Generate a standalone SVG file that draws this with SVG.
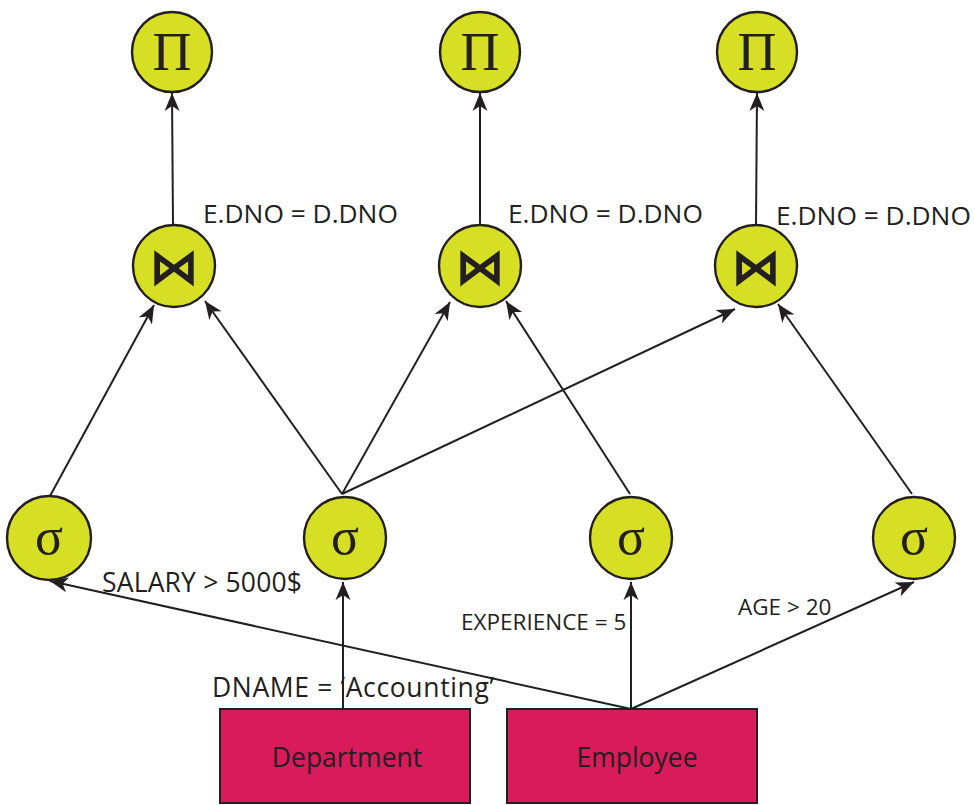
<svg xmlns="http://www.w3.org/2000/svg" width="975" height="805" viewBox="0 0 975 805">
  <style>
    .op { fill: #d6df23; stroke: #231f20; stroke-width: 2.4; }
    .rel { fill: #d91b5b; stroke: #231f20; stroke-width: 2; }
    .edge { stroke: #231f20; stroke-width: 2; fill: none; marker-end: url(#arrow); }
    .sym { font-family: "Liberation Serif", "DejaVu Serif", serif; fill: #231f20; text-anchor: middle; }
    .bow { font-family: "DejaVu Sans", sans-serif; font-weight: bold; fill: #231f20; text-anchor: middle; }
    .lbl { font-family: "Open Sans", "Liberation Sans", sans-serif; fill: #231f20; }
    .name { font-family: "Open Sans", "Liberation Sans", sans-serif; fill: #231f20; font-size: 26.5px; text-anchor: middle; }
  </style>
  <defs>
    <marker id="arrow" markerUnits="userSpaceOnUse" markerWidth="22" markerHeight="18" viewBox="-19 -9 20 18" refX="0" refY="0" orient="auto">
      <path d="M0,0 L-18,-7.5 L-13,0 L-18,7.5 Z" fill="#231f20"/>
    </marker>
  </defs>
  <rect width="975" height="805" fill="#ffffff"/>

  <!-- connectors -->
  <g id="connectors">
    <!-- join to projection -->
    <line class="edge" x1="173" y1="225" x2="172" y2="93"/>
    <line class="edge" x1="480" y1="225" x2="480" y2="93"/>
    <line class="edge" x1="756" y1="225" x2="757" y2="93"/>
    <!-- selections to joins -->
    <line class="edge" x1="50" y1="496" x2="154" y2="305"/>
    <line class="edge" x1="342" y1="494" x2="205" y2="301"/>
    <line class="edge" x1="342" y1="494" x2="450" y2="302"/>
    <line class="edge" x1="630" y1="494" x2="506" y2="301"/>
    <line class="edge" x1="342" y1="494" x2="735" y2="309"/>
    <line class="edge" x1="912" y1="494" x2="778" y2="304"/>
    <!-- relations to selections -->
    <line class="edge" x1="343" y1="710" x2="343" y2="582"/>
    <line class="edge" x1="631" y1="709" x2="631" y2="582"/>
    <line class="edge" x1="631" y1="709" x2="50" y2="581"/>
    <line class="edge" x1="631" y1="709" x2="914" y2="582"/>
  </g>

  <!-- projections -->
  <g id="proj1"><circle class="op" cx="172" cy="52" r="40"/><text class="sym" x="172" y="70" font-size="54">Π</text></g>
  <g id="proj2"><circle class="op" cx="480" cy="52" r="40"/><text class="sym" x="480" y="70" font-size="54">Π</text></g>
  <g id="proj3"><circle class="op" cx="757" cy="52" r="40"/><text class="sym" x="757" y="70" font-size="54">Π</text></g>

  <!-- joins -->
  <g id="join1"><circle class="op" cx="174" cy="266" r="41"/><text class="bow" x="174" y="284" font-size="50">⋈</text></g>
  <g id="join2"><circle class="op" cx="480" cy="266" r="41"/><text class="bow" x="480" y="284" font-size="50">⋈</text></g>
  <g id="join3"><circle class="op" cx="756" cy="266" r="41"/><text class="bow" x="756" y="284" font-size="50">⋈</text></g>

  <!-- join conditions -->
  <text class="lbl" x="203" y="223" font-size="26.3">E.DNO = D.DNO</text>
  <text class="lbl" x="508" y="223" font-size="26.3">E.DNO = D.DNO</text>
  <text class="lbl" x="776" y="225" font-size="26.3">E.DNO = D.DNO</text>

  <!-- selections -->
  <g id="sel1"><circle class="op" cx="49" cy="538" r="42"/><text class="sym" x="49" y="554" font-size="52">σ</text></g>
  <g id="sel2"><circle class="op" cx="345" cy="538" r="41"/><text class="sym" x="345" y="554" font-size="52">σ</text></g>
  <g id="sel3"><circle class="op" cx="631" cy="538" r="41"/><text class="sym" x="631" y="554" font-size="52">σ</text></g>
  <g id="sel4"><circle class="op" cx="914" cy="538" r="41"/><text class="sym" x="914" y="554" font-size="52">σ</text></g>

  <!-- selection predicates -->
  <text class="lbl" x="102" y="592" font-size="26.5" textLength="200" lengthAdjust="spacing">SALARY &gt; 5000$</text>
  <text class="lbl" x="212" y="697" font-size="26.5" textLength="282" lengthAdjust="spacing">DNAME = ‘Accounting’</text>
  <text class="lbl" x="461" y="630" font-size="22.5">EXPERIENCE = 5</text>
  <text class="lbl" x="738" y="615" font-size="22.5">AGE &gt; 20</text>

  <!-- relations -->
  <g id="department"><rect class="rel" x="220" y="709" width="250" height="94"/><text class="name" x="347" y="767">Department</text></g>
  <g id="employee"><rect class="rel" x="507" y="709" width="250" height="94"/><text class="name" x="637" y="767">Employee</text></g>
</svg>
